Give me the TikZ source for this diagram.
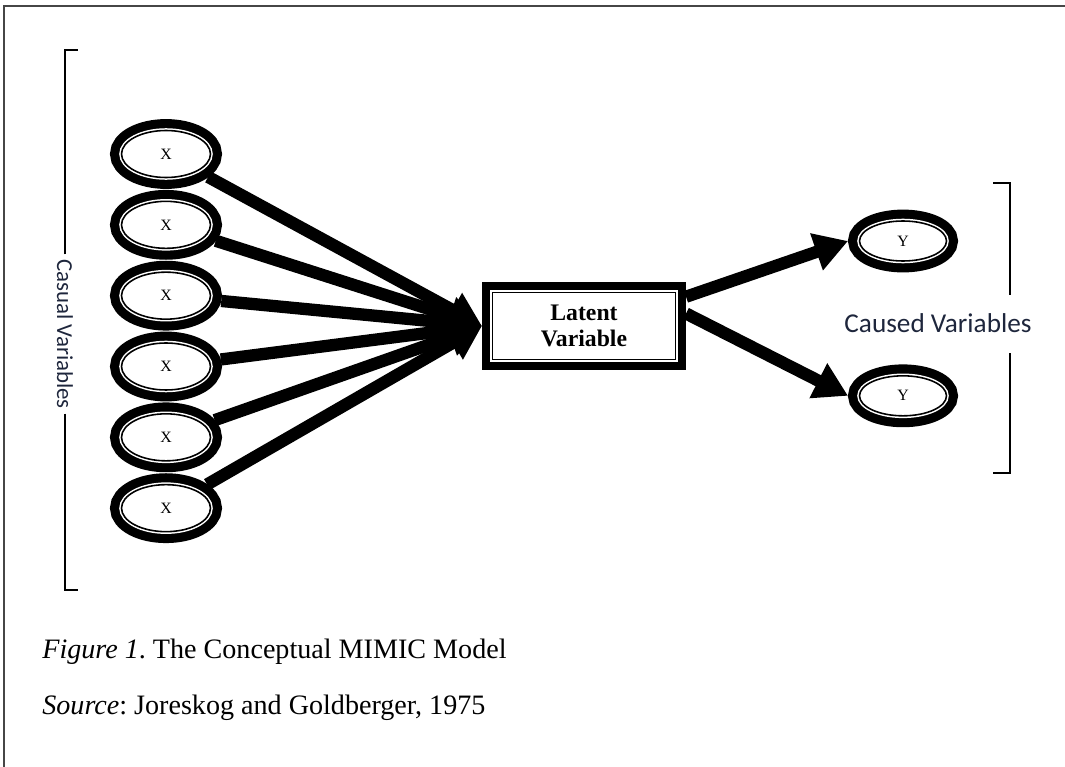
\documentclass[tikz,border=0pt]{standalone}
\usepackage{fontspec}
\setmainfont{Liberation Serif}
\newfontfamily\labelfont{Carlito}
\usetikzlibrary{shapes.geometric, arrows.meta, positioning}
\definecolor{labelnavy}{RGB}{30,38,60}
\definecolor{framegray}{RGB}{70,70,70}

\begin{document}
\frenchspacing
\begin{tikzpicture}[
    x=0.02cm, y=-0.02cm,
    % Observed cause (X): thick outer ring, white gap, thin inner line
    causevar/.style={ellipse, draw=black, line width=0.9pt, fill=white, inner sep=0pt, outer sep=6.5pt, minimum width=1.78cm, minimum height=0.94cm, font=\fontsize{9}{10}\selectfont, preaction={draw=black, line width=13pt}, preaction={draw=white, line width=2.6pt}},
    % Indicator (Y): same ring, a bit flatter
    effectvar/.style={causevar, minimum width=1.74cm, minimum height=0.8cm},
    % Latent Variable Box
    latentbox/.style={rectangle, draw=black, line width=0.9pt, fill=white, inner sep=0pt, outer sep=6pt, minimum width=3.66cm, minimum height=1.34cm, align=center, font=\fontsize{13.5}{15}\selectfont\bfseries, preaction={draw=black, line width=12pt}, preaction={draw=white, line width=2.6pt}},
    % Heavy arrows
    conn/.style={line width=7pt, -{Triangle[length=19pt, width=21pt]}},
    % Side labels and brackets
    sidelabel/.style={text=labelnavy, inner sep=2.5pt},
    bracketline/.style={draw=black, line width=1.2pt},
    caption/.style={inner sep=0pt, font=\fontsize{16}{18}\selectfont}
]

\useasboundingbox (0,0) rectangle (1065,767);

% ================= Frame =================
\draw[framegray, line width=0.9pt] (4,767) -- (4,6) -- (1065,6);

% ================= Nodes =================

% 1. Causes (left column)
\node[causevar] (x1) at (166,154) {X};
\node[causevar, below=0.02cm of x1] (x2) {X};
\node[causevar, below=0.02cm of x2] (x3) {X};
\node[causevar, below=0.02cm of x3] (x4) {X};
\node[causevar, below=0.02cm of x4] (x5) {X};
\node[causevar, below=0.02cm of x5] (x6) {X};

% 2. Latent variable
\node[latentbox] (latent) at (584,326) {Latent\\Variable};

% 3. Indicators (right column)
\node[effectvar] (y1) at (903,241) {Y};
\node[effectvar, below=1.84cm of y1] (y2) {Y};

% 4. Side labels
\node[sidelabel, rotate=-90, font=\labelfont\fontsize{13}{15}\selectfont] (casual) at (65,334) {Casual Variables};
\node[sidelabel, font=\labelfont\fontsize{15.5}{17}\selectfont] (caused) at (938,323) {Caused Variables};

% 5. Caption
\node[caption, anchor=base west] (figcap) at (42,658) {\textit{Figure 1}. The Conceptual MIMIC Model};
\node[caption, anchor=base west] (source) at (42,714) {\textit{Source}: Joreskog and Goldberger, 1975};

% bracket ends
\coordinate (ltop) at (78,50);
\coordinate (lbot) at (78,590);
\coordinate (rtop) at (993,183);
\coordinate (rupper) at (1010,295);
\coordinate (rlower) at (1010,353);
\coordinate (rbot) at (993,473);

% ================= Connections =================

% Causes into latent
\draw[conn] (x1) -- (latent.west);
\draw[conn] (x2) -- (latent.west);
\draw[conn] (x3) -- (latent.west);
\draw[conn] (x4) -- (latent.west);
\draw[conn] (x5) -- (latent.west);
\draw[conn] (x6) -- (latent.west);

% Latent out to indicators
\draw[conn] (latent.16) -- (y1.west);
\draw[conn] (latent.7) -- (y2.west);

% Brackets
\draw[bracketline] (casual.west) |- (ltop);
\draw[bracketline] (casual.east) |- (lbot);
\draw[bracketline] (rtop) -| (rupper);
\draw[bracketline] (rlower) |- (rbot);

\end{tikzpicture}
\end{document}
